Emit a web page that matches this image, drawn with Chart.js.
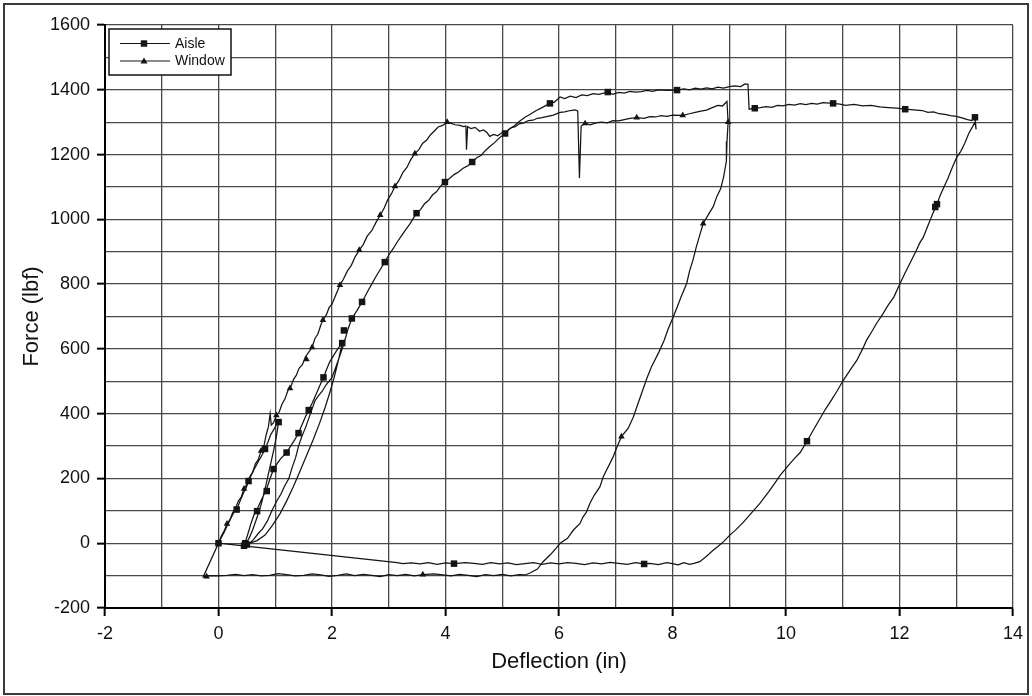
<!DOCTYPE html>
<html><head><meta charset="utf-8">
<script src="https://cdn.jsdelivr.net/npm/chart.js@4.4.1/dist/chart.umd.min.js"></script>
<style>html,body{margin:0;padding:0;background:#fff}#wrap{width:1032px;height:696px;position:relative}</style>
</head><body><div id="wrap"><canvas id="c" width="1032" height="696"></canvas></div>
<script>
// ---------------- DATA (deflection in, force lbf) ----------------
const seriesNames = ['Aisle', 'Window'];
const xTitle = 'Deflection (in)';
const yTitle = 'Force (lbf)';
const xTickValues = [-2, 0, 2, 4, 6, 8, 10, 12, 14];
const yTickValues = [-200, 0, 200, 400, 600, 800, 1000, 1200, 1400, 1600];

// Window: main loading
const windowLoad = [[0,0],[0.05,22],[0.1,38],[0.15,60],[0.2,72],[0.25,95],[0.3,108],[0.35,130],[0.4,142],[0.45,168],[0.5,182],[0.55,205],[0.6,218],[0.65,245],[0.7,258],[0.75,285],[0.8,300],[0.84,335],[0.88,360],[0.91,400],[0.93,365],[0.97,372],[1.02,395],[1.07,405],[1.12,430],[1.17,445],[1.22,470],[1.27,482],[1.32,505],[1.37,518],[1.42,540],[1.48,552],[1.53,575],[1.59,590],[1.65,605],[1.7,632],[1.75,645],[1.8,672],[1.84,689],[1.9,705],[1.95,728],[2.0,738],[2.07,768],[2.14,797],[2.2,815],[2.27,840],[2.34,858],[2.41,885],[2.48,905],[2.55,922],[2.62,948],[2.7,965],[2.78,992],[2.85,1013],[2.92,1035],[2.98,1060],[3.05,1080],[3.11,1102],[3.18,1120],[3.25,1145],[3.32,1160],[3.39,1185],[3.46,1203],[3.53,1215],[3.6,1235],[3.67,1245],[3.74,1262],[3.8,1272],[3.87,1285],[3.95,1290],[4.03,1300],[4.1,1296],[4.17,1292],[4.25,1290],[4.32,1286],[4.36,1288],[4.37,1215],[4.39,1286],[4.45,1280],[4.52,1284],[4.6,1272],[4.67,1276],[4.73,1268],[4.78,1256],[4.85,1262],[4.92,1258],[5.0,1268],[5.08,1272],[5.15,1282],[5.23,1286],[5.3,1295],[5.38,1298],[5.46,1305],[5.54,1306],[5.62,1312],[5.7,1314],[5.8,1318],[5.9,1322],[6.02,1330],[6.1,1332],[6.2,1336],[6.28,1338],[6.33,1335],[6.36,1128],[6.39,1288],[6.46,1296],[6.55,1292],[6.65,1298],[6.75,1300],[6.85,1298],[6.95,1305],[7.05,1304],[7.15,1308],[7.25,1312],[7.37,1314],[7.5,1312],[7.6,1317],[7.7,1316],[7.8,1320],[7.9,1318],[8.0,1322],[8.18,1321],[8.3,1326],[8.4,1330],[8.5,1334],[8.6,1337],[8.7,1345],[8.8,1352],[8.88,1350],[8.96,1364]];
// Window: unloading
const windowUnload = [[8.98,1300],[8.96,1240],[8.95,1180],[8.9,1130],[8.85,1095],[8.78,1070],[8.72,1040],[8.65,1020],[8.54,987],[8.47,945],[8.42,915],[8.36,874],[8.3,840],[8.25,802],[8.15,760],[8.08,728],[8.01,698],[7.92,660],[7.85,625],[7.76,590],[7.63,545],[7.55,510],[7.45,460],[7.38,425],[7.31,390],[7.22,355],[7.1,329],[7.02,296],[6.95,265],[6.85,230],[6.78,205],[6.72,174],[6.62,148],[6.55,125],[6.48,95],[6.42,80],[6.37,61],[6.25,40],[6.15,15],[6.02,0],[5.95,-15],[5.85,-35],[5.72,-57],[5.62,-80],[5.49,-92],[5.4,-98]];
// Window: return stroke at negative load
const windowReturn = [[5.3,-97],[5.15,-101],[5.0,-96],[4.85,-100],[4.7,-97],[4.55,-103],[4.4,-99],[4.25,-96],[4.1,-101],[3.95,-98],[3.8,-95],[3.6,-97],[3.45,-101],[3.3,-96],[3.15,-100],[3.0,-97],[2.85,-103],[2.7,-99],[2.55,-96],[2.4,-100],[2.25,-95],[2.1,-99],[1.95,-102],[1.8,-98],[1.65,-95],[1.5,-99],[1.35,-101],[1.2,-97],[1.05,-94],[0.9,-99],[0.75,-101],[0.6,-97],[0.45,-100],[0.3,-96],[0.15,-99],[0.0,-101],[-0.15,-100],[-0.27,-104],[0,0]];

// Aisle: preload cycles
const aislePreload = [[0,0],[0.05,18],[0.1,34],[0.16,56],[0.22,78],[0.28,98],[0.32,104],[0.38,130],[0.44,155],[0.49,172],[0.53,192],[0.58,212],[0.64,232],[0.7,252],[0.76,270],[0.82,291],[0.87,312],[0.92,335],[0.97,350],[1.02,365],[1.06,374],[1.02,330],[0.97,285],[0.9,230],[0.83,175],[0.76,125],[0.68,80],[0.6,40],[0.53,12],[0.47,0],[0.45,-8],[0.47,2],[0.52,30],[0.58,65],[0.63,90],[0.68,105],[0.74,128],[0.8,150],[0.85,168],[0.9,195],[0.97,229],[1.03,245],[1.1,262],[1.2,280],[1.27,300],[1.34,318],[1.41,340],[1.47,365],[1.53,390],[1.59,411],[1.65,432],[1.72,460],[1.78,485],[1.85,512],[1.9,535],[1.96,560],[2.03,580],[2.1,600],[2.18,618],[2.12,570],[2.05,520],[1.97,470],[1.88,420],[1.78,370],[1.67,320],[1.55,270],[1.43,220],[1.32,175],[1.2,130],[1.08,90],[0.95,55],[0.82,25],[0.68,8],[0.55,0],[0.62,12],[0.7,30],[0.78,45],[0.86,68],[0.94,100],[1.02,128],[1.1,152],[1.17,178],[1.24,200],[1.3,235],[1.36,265],[1.41,300],[1.47,330],[1.54,360],[1.62,400],[1.7,440],[1.76,455],[1.83,470],[1.9,490],[2.0,512],[2.07,545],[2.13,575],[2.18,600],[2.24,635],[2.28,660]];
// Aisle: main loading
const aisleLoad = [[2.35,694],[2.44,718],[2.53,745],[2.62,775],[2.7,800],[2.78,825],[2.85,845],[2.93,868],[3.0,890],[3.08,910],[3.15,930],[3.22,948],[3.3,968],[3.37,985],[3.43,1002],[3.49,1019],[3.56,1030],[3.63,1048],[3.7,1058],[3.77,1075],[3.84,1085],[3.91,1102],[3.99,1115],[4.07,1126],[4.15,1138],[4.23,1146],[4.31,1158],[4.39,1165],[4.47,1177],[4.55,1190],[4.63,1198],[4.7,1212],[4.78,1225],[4.86,1236],[4.94,1250],[5.05,1265],[5.13,1280],[5.22,1290],[5.3,1302],[5.4,1315],[5.5,1325],[5.6,1336],[5.7,1345],[5.84,1358],[5.92,1362],[6.02,1378],[6.1,1373],[6.2,1380],[6.3,1376],[6.4,1384],[6.5,1382],[6.6,1388],[6.7,1386],[6.86,1393],[6.95,1386],[7.05,1392],[7.15,1390],[7.25,1395],[7.35,1393],[7.45,1394],[7.55,1398],[7.65,1395],[7.75,1400],[7.9,1398],[8.08,1399],[8.2,1403],[8.3,1400],[8.4,1405],[8.5,1402],[8.6,1406],[8.7,1403],[8.8,1408],[8.9,1405],[9.0,1410],[9.1,1412],[9.2,1410],[9.28,1418],[9.33,1417],[9.35,1340],[9.45,1343],[9.55,1345],[9.65,1348],[9.75,1346],[9.85,1352],[9.95,1350],[10.05,1355],[10.15,1353],[10.25,1357],[10.35,1354],[10.45,1358],[10.55,1356],[10.65,1360],[10.83,1358],[10.95,1356],[11.05,1352],[11.2,1355],[11.35,1350],[11.5,1352],[11.65,1347],[11.8,1345],[11.95,1343],[12.1,1340],[12.25,1338],[12.4,1336],[12.5,1330],[12.6,1332],[12.7,1326],[12.8,1324],[12.9,1320],[13.0,1318],[13.1,1313],[13.2,1308],[13.27,1305],[13.33,1315],[13.35,1278],[13.33,1300]];
// Aisle: unloading
const aisleUnload = [[13.3,1290],[13.22,1265],[13.15,1235],[13.08,1210],[13.01,1192],[12.93,1160],[12.85,1125],[12.78,1098],[12.72,1075],[12.66,1047],[12.58,1015],[12.5,980],[12.42,945],[12.35,925],[12.3,905],[12.2,870],[12.1,835],[12.01,802],[11.9,760],[11.8,735],[11.71,709],[11.6,680],[11.5,650],[11.42,627],[11.35,600],[11.25,565],[11.15,540],[11.01,503],[10.9,470],[10.8,442],[10.7,415],[10.6,385],[10.5,355],[10.37,315],[10.25,280],[10.15,262],[10.02,236],[9.9,210],[9.8,185],[9.7,160],[9.54,123],[9.4,95],[9.25,65],[9.12,42],[9.01,25],[8.9,5],[8.8,-10],[8.72,-21],[8.6,-40],[8.48,-57],[8.38,-62]];
// Aisle: return stroke at negative load
const aisleReturn = [[8.3,-65],[8.2,-60],[8.1,-67],[8.0,-63],[7.9,-60],[7.75,-66],[7.6,-62],[7.5,-64],[7.35,-60],[7.2,-65],[7.05,-62],[6.9,-59],[6.75,-64],[6.6,-61],[6.45,-66],[6.3,-62],[6.15,-60],[6.0,-64],[5.85,-61],[5.7,-65],[5.55,-60],[5.4,-63],[5.25,-66],[5.1,-61],[4.95,-64],[4.8,-60],[4.65,-65],[4.5,-62],[4.35,-60],[4.15,-63],[4.0,-61],[3.85,-65],[3.7,-60],[3.55,-64],[3.4,-61],[3.25,-63],[3.15,-60],[0,0]];

// Marker positions
const aisleMarkers = [[0,0],[0.32,104],[0.53,192],[0.82,291],[1.06,374],[0.47,0],[0.45,-8],[0.5,-4],[0.68,99],[0.85,161],[0.97,229],[1.2,280],[1.41,340],[1.59,411],[1.85,512],[2.18,618],[2.21,657],[2.35,694],[2.53,745],[2.93,868],[3.49,1019],[3.99,1115],[4.47,1177],[5.05,1265],[5.84,1358],[6.86,1393],[8.08,1399],[9.45,1343],[10.83,1358],[12.1,1340],[13.33,1315],[12.66,1047],[12.63,1038],[10.37,315],[7.5,-64],[4.15,-63]];
const windowMarkers = [[0,0],[-0.21,-103],[3.6,-97],[0.15,60],[0.45,168],[0.75,285],[1.02,395],[1.26,478],[1.55,568],[1.65,605],[1.84,689],[2.14,797],[2.48,905],[2.85,1013],[3.11,1102],[3.46,1203],[4.03,1300],[6.46,1296],[7.37,1314],[8.18,1321],[8.98,1300],[8.54,987],[7.1,329]];

// ---------------- CHART ----------------
const toXY = (arr) => arr.map(p => ({x: p[0], y: p[1]}));
const ink = '#141414';
const FONT = '"Liberation Sans", Arial, sans-serif';

const outerFrame = {
  id: 'outerFrame',
  afterDraw(chart) {
    const c = chart.ctx;
    c.save();
    c.strokeStyle = '#3a3a3a';
    c.lineWidth = 2;
    c.strokeRect(4, 4, 1024, 690);
    c.restore();
  }
};

const boxLegend = {
  id: 'boxLegend',
  afterDatasetsDraw(chart) {
    const c = chart.ctx;
    const a = chart.chartArea;
    const bx = a.left + 4, by = a.top + 4, bw = 122, bh = 46;
    c.save();
    c.fillStyle = '#fff';
    c.fillRect(bx, by, bw, bh);
    c.strokeStyle = '#111';
    c.lineWidth = 1.5;
    c.strokeRect(bx, by, bw, bh);
    seriesNames.forEach((name, i) => {
      const y = by + 14.5 + i * 17.5;
      c.beginPath();
      c.strokeStyle = ink;
      c.lineWidth = 1;
      c.moveTo(bx + 11, y);
      c.lineTo(bx + 61, y);
      c.stroke();
      c.fillStyle = ink;
      const mx = bx + 35;
      if (i === 0) {
        c.fillRect(mx - 3.2, y - 3.2, 6.4, 6.4);
      } else {
        c.beginPath();
        c.moveTo(mx, y - 3.5);
        c.lineTo(mx + 3.5, y + 2.5);
        c.lineTo(mx - 3.5, y + 2.5);
        c.closePath();
        c.fill();
      }
      c.font = '14px ' + FONT;
      c.textBaseline = 'middle';
      c.textAlign = 'left';
      c.fillStyle = '#111';
      c.fillText(name, bx + 66, y + 0.5);
    });
    c.restore();
  }
};

const gridColor = '#484848';

new Chart(document.getElementById('c'), {
  type: 'scatter',
  data: {
    datasets: [
      {label: seriesNames[0] + ' markers', data: toXY(aisleMarkers), showLine: false, pointStyle: 'rect', pointRadius: 4.6, backgroundColor: ink, borderColor: ink, borderWidth: 0},
      {label: seriesNames[1] + ' markers', data: toXY(windowMarkers), showLine: false, pointStyle: 'triangle', pointRadius: 3.8, backgroundColor: ink, borderColor: ink, borderWidth: 0},
      {label: seriesNames[0], data: toXY([].concat(aislePreload, aisleLoad, aisleUnload, aisleReturn)), showLine: true, pointRadius: 0, borderColor: ink, borderWidth: 1.25, tension: 0},
      {label: seriesNames[1], data: toXY([].concat(windowLoad, windowUnload, windowReturn)), showLine: true, pointRadius: 0, borderColor: ink, borderWidth: 1.25, tension: 0}
    ]
  },
  options: {
    responsive: false,
    animation: false,
    devicePixelRatio: 1,
    layout: {padding: {top: 25, right: 19, left: 0, bottom: 0}},
    plugins: {legend: {display: false}, tooltip: {enabled: false}},
    scales: {
      x: {
        type: 'linear', min: -2, max: 14,
        afterFit: (s) => { s.height = 88; },
        ticks: {
          stepSize: 1, autoSkip: false, maxRotation: 0, padding: 7,
          color: '#111', font: {family: FONT, size: 18},
          callback: (v) => xTickValues.includes(v) ? String(v) : ''
        },
        grid: {
          color: gridColor, lineWidth: 1.3, tickLength: 8, tickWidth: 2,
          tickColor: (ctx) => (ctx.tick && xTickValues.includes(ctx.tick.value)) ? '#000' : 'rgba(0,0,0,0)'
        },
        border: {display: true, color: '#000', width: 2},
        title: {display: true, text: xTitle, color: '#111', font: {family: FONT, size: 22}, padding: {top: 0, bottom: 21}}
      },
      y: {
        type: 'linear', min: -200, max: 1600,
        afterFit: (s) => { s.width = 105; },
        ticks: {
          stepSize: 100, autoSkip: false, padding: 7,
          color: '#111', font: {family: FONT, size: 18},
          callback: (v) => yTickValues.includes(v) ? String(v) : ''
        },
        grid: {
          color: gridColor, lineWidth: 1.3, tickLength: 8, tickWidth: 2,
          tickColor: (ctx) => (ctx.tick && yTickValues.includes(ctx.tick.value)) ? '#000' : 'rgba(0,0,0,0)'
        },
        border: {display: true, color: '#000', width: 2},
        title: {display: true, text: yTitle, color: '#111', font: {family: FONT, size: 22}, padding: {top: 19, bottom: 0}}
      }
    }
  },
  plugins: [boxLegend, outerFrame]
});
</script>
</body></html>
